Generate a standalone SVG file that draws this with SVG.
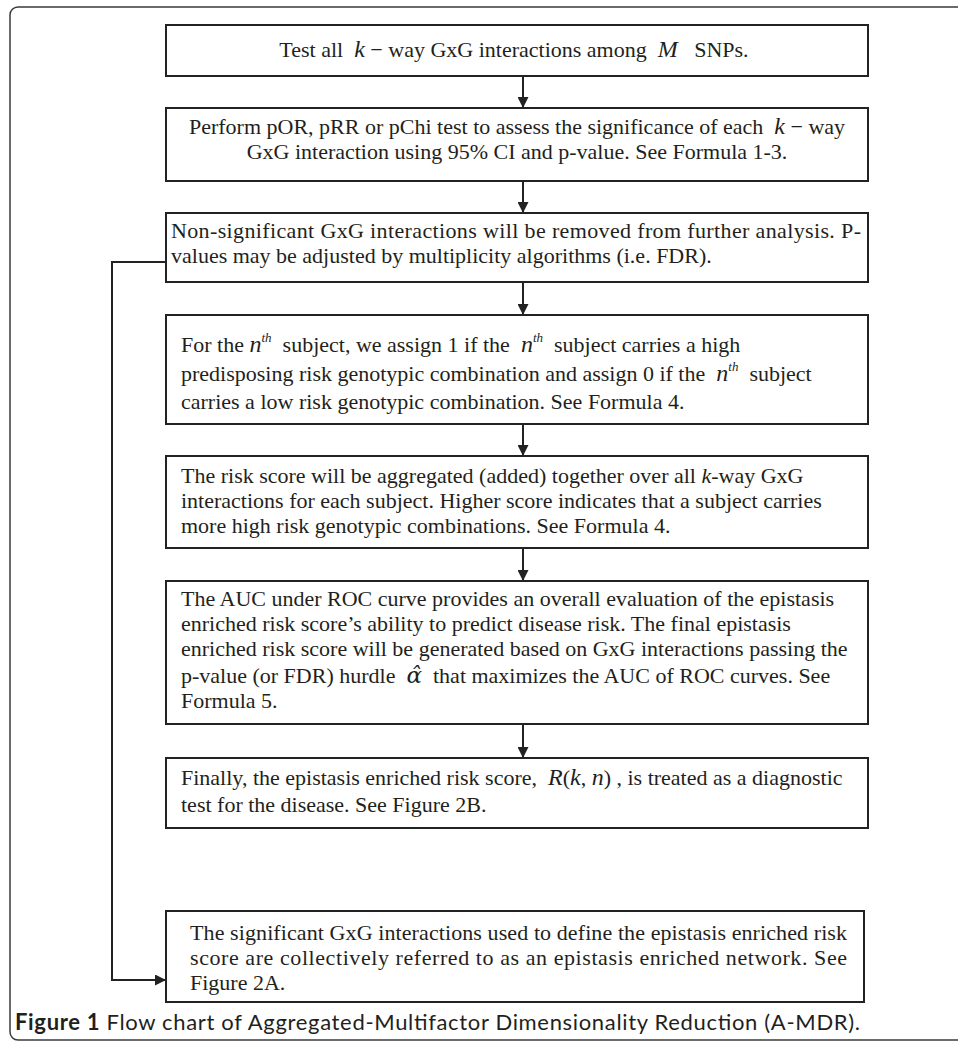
<svg xmlns="http://www.w3.org/2000/svg" width="958" height="1045" viewBox="0 0 958 1045">
<defs>
<style>
.frame{fill:none;stroke:#3a3a3a;stroke-width:1.5}
.box{fill:#fff;stroke:#222;stroke-width:2}
.t{font-family:"Liberation Serif","Times New Roman",serif;font-size:22px;fill:#231f20}
.c{text-anchor:middle}
.i{font-style:italic;font-size:24px}
.sup{font-style:italic;font-size:13px}
.con{fill:none;stroke:#222;stroke-width:2}
.cap{font-family:Lato,"Open Sans",sans-serif;font-size:22px;fill:#231f20}
</style>
<marker id="ah" viewBox="0 0 10 10" refX="10" refY="5" markerWidth="5.5" markerHeight="5.5" markerUnits="strokeWidth" orient="auto">
<path d="M0,0 L10,5 L0,10 z" fill="#222"/>
</marker>
</defs>
<rect class="frame" x="10" y="7" width="980" height="1033" rx="8"/>
<g id="connectors">
<line class="con" x1="523" y1="76" x2="523" y2="108" marker-end="url(#ah)"/>
<line class="con" x1="523" y1="181" x2="523" y2="213" marker-end="url(#ah)"/>
<line class="con" x1="523" y1="282" x2="523" y2="315" marker-end="url(#ah)"/>
<line class="con" x1="523" y1="424" x2="523" y2="456" marker-end="url(#ah)"/>
<line class="con" x1="523" y1="548" x2="523" y2="581" marker-end="url(#ah)"/>
<line class="con" x1="523" y1="724" x2="523" y2="758" marker-end="url(#ah)"/>
<path class="con" d="M166,262 H112 V980 H166" marker-end="url(#ah)"/>
</g>
<g id="n1">
<rect class="box" x="166" y="25" width="702" height="51"/>
<text class="t c" x="514" y="57">Test all&#160; <tspan class="i">k</tspan> − way GxG interactions among&#160; <tspan class="i">M</tspan>&#160;&#160; SNPs.</text>
</g>
<g id="n2">
<rect class="box" x="166" y="108" width="702" height="73"/>
<text class="t c" x="517" y="134">Perform pOR, pRR or pChi test to assess the significance of each&#160; <tspan class="i">k</tspan> − way</text>
<text class="t c" x="517" y="159">GxG interaction using 95% CI and p-value. See Formula 1-3.</text>
</g>
<g id="n3">
<rect class="box" x="166" y="213" width="702" height="69"/>
<text class="t" x="171" y="238" textLength="690" lengthAdjust="spacing">Non-significant GxG interactions will be removed from further analysis. P-</text>
<text class="t" x="171" y="263">values may be adjusted by multiplicity algorithms (i.e. FDR).</text>
</g>
<g id="n4">
<rect class="box" x="166" y="315" width="702" height="109"/>
<text class="t" x="181" y="352">For the <tspan class="i">n</tspan><tspan class="sup" dy="-10">th</tspan><tspan dy="10">&#160; subject, we assign 1 if the&#160; </tspan><tspan class="i">n</tspan><tspan class="sup" dy="-10">th</tspan><tspan dy="10">&#160; subject carries a high</tspan></text>
<text class="t" x="181" y="381">predisposing risk genotypic combination and assign 0 if the&#160; <tspan class="i">n</tspan><tspan class="sup" dy="-10">th</tspan><tspan dy="10">&#160; subject</tspan></text>
<text class="t" x="181" y="409">carries a low risk genotypic combination. See Formula 4.</text>
</g>
<g id="n5">
<rect class="box" x="166" y="456" width="702" height="92"/>
<text class="t" x="181" y="483">The risk score will be aggregated (added) together over all <tspan font-style="italic">k</tspan>-way GxG</text>
<text class="t" x="181" y="508">interactions for each subject. Higher score indicates that a subject carries</text>
<text class="t" x="181" y="533">more high risk genotypic combinations. See Formula 4.</text>
</g>
<g id="n6">
<rect class="box" x="166" y="581" width="702" height="143"/>
<text class="t" x="181" y="606">The AUC under ROC curve provides an overall evaluation of the epistasis</text>
<text class="t" x="181" y="631">enriched risk score’s ability to predict disease risk. The final epistasis</text>
<text class="t" x="181" y="656">enriched risk score will be generated based on GxG interactions passing the</text>
<text class="t" x="181" y="683">p-value (or FDR) hurdle&#160; <tspan font-family="'DejaVu Serif',serif" font-style="italic" font-size="23">α̂</tspan>&#160; that maximizes the AUC of ROC curves. See</text>
<text class="t" x="181" y="708">Formula 5.</text>
</g>
<g id="n7">
<rect class="box" x="166" y="758" width="702" height="70"/>
<text class="t" x="181" y="785">Finally, the epistasis enriched risk score,&#160; <tspan class="i">R</tspan>(<tspan class="i">k</tspan>, <tspan class="i">n</tspan>) , is treated as a diagnostic</text>
<text class="t" x="181" y="812">test for the disease. See Figure 2B.</text>
</g>
<g id="n8">
<rect class="box" x="166" y="911" width="698" height="91"/>
<text class="t" x="190" y="940" textLength="657" lengthAdjust="spacing">The significant GxG interactions used to define the epistasis enriched risk</text>
<text class="t" x="190" y="965" textLength="657" lengthAdjust="spacing">score are collectively referred to as an epistasis enriched network. See</text>
<text class="t" x="190" y="990">Figure 2A.</text>
</g>
<text class="cap" x="15" y="1030" textLength="845" lengthAdjust="spacing"><tspan font-weight="bold">Figure 1</tspan> Flow chart of Aggregated-Multifactor Dimensionality Reduction (A-MDR).</text>
</svg>
